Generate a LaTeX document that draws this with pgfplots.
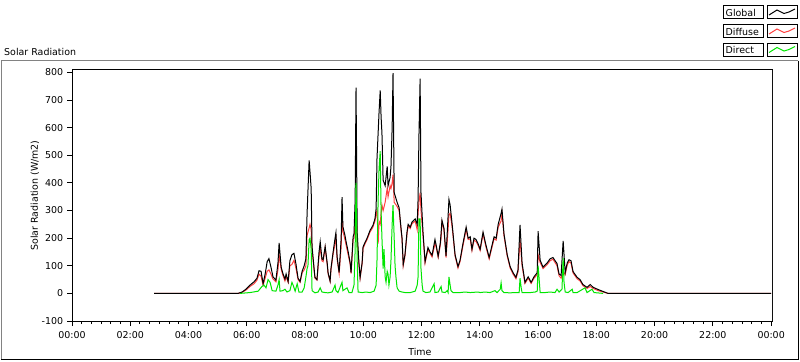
\documentclass[border=0pt]{standalone}
\usepackage{fontspec}
\setmainfont{DejaVu Sans}
\usepackage{pgfplots}
\pgfplotsset{compat=1.18}
\definecolor{lvred}{RGB}{255,64,64}
\definecolor{lvgreen}{RGB}{0,230,0}
\definecolor{lvgray}{RGB}{130,130,130}
\begin{document}
\begin{tikzpicture}[x=1bp,y=1bp,font=\fontsize{9.5}{11}\selectfont]
\useasboundingbox (0,0) rectangle (800,361);
\fill[white] (0,0) rectangle (800,361);
% outer panel
\draw[lvgray,line width=1bp] (1.5,1) -- (1.5,300.5) -- (798,300.5);
\draw[black,line width=1bp] (798.5,300.5) -- (798.5,1.5) -- (1,1.5);
% title
\node[anchor=base west,inner sep=0pt] at (4,306) {Solar Radiation};
% legend
\foreach \t/\b/\lab/\col in {355.5/342.5/Global/black, 336.5/323.5/Diffuse/lvred, 318/305/Direct/lvgreen}{
  \draw[black,line width=1bp] (723.5,\b) rectangle (763.5,\t);
  \draw[black,line width=1bp] (767,\b) rectangle (797,\t);
  \node[anchor=base west,inner sep=0pt] at (725.5,\b+2.2) {\lab};
  \draw[\col,line width=1bp] (769,\b+3.5) -- (777,\b+8.5) -- (784,\b+5) -- (789,\b+6.5) -- (795,\b+9.5);
}
\begin{axis}[
  at={(72bp,40bp)}, anchor=south west, scale only axis,
  width=700bp, height=251bp,
  xmin=0, xmax=24.03, ymin=-100, ymax=809,
  axis line style={black, line width=1bp},
  tick align=outside, xtick pos=bottom, ytick pos=left,
  xtick={0,2,...,24},
  xticklabels={00:00,02:00,04:00,06:00,08:00,10:00,12:00,14:00,16:00,18:00,20:00,22:00,00:00},
  minor x tick num=5,
  ytick={-100,0,100,200,300,400,500,600,700,800},
  yticklabels={-100,0,100,200,300,400,500,600,700,800},
  major tick length=5bp, minor tick length=3bp,
  tick style={black, line width=1bp},
  ticklabel style={font=\fontsize{9.5}{11}\selectfont, inner sep=0pt},
  yticklabel style={anchor=east, xshift=-3.7bp},
  xticklabel style={anchor=north, yshift=-5bp},
  xlabel={Time},
  xlabel style={at={(axis description cs:0.497,0)}, anchor=base, yshift=-34bp, inner sep=0pt},
  ylabel={Solar Radiation (W/m2)},
  ylabel style={at={(axis description cs:-0.0529,0.5)}, anchor=center, inner sep=0pt},
  label style={font=\fontsize{9.5}{11}\selectfont},
  clip=true,
]
\addplot[lvred, line width=1bp] coordinates {
(2.82,0) (5.70,0) (5.84,4) (5.97,12) (6.11,25) (6.25,35) (6.35,48) (6.42,70) (6.49,62) (6.56,30) (6.63,55) (6.70,80) (6.76,85) (6.83,70) (6.90,52) (7.00,42) (7.07,85) (7.11,140) (7.18,88) (7.24,65) (7.31,45) (7.35,60) (7.42,40) (7.48,100) (7.55,105) (7.62,120) (7.69,90) (7.76,50) (7.83,40) (7.90,75) (7.97,85) (8.03,100) (8.07,210) (8.14,237) (8.17,250) (8.21,230) (8.24,160) (8.31,85) (8.34,55) (8.41,48) (8.48,135) (8.52,165) (8.58,118) (8.62,115) (8.69,165) (8.76,105) (8.79,72) (8.86,43) (8.89,85) (8.96,140) (9.03,180) (9.06,200) (9.10,125) (9.17,72) (9.24,170) (9.27,300) (9.30,225) (9.37,195) (9.41,175) (9.48,140) (9.55,105) (9.58,72) (9.65,195) (9.68,200) (9.72,260) (9.75,330) (9.79,190) (9.85,105) (9.89,55) (9.96,108) (9.99,162) (10.06,180) (10.13,195) (10.23,222) (10.33,240) (10.40,262) (10.44,290) (10.47,300) (10.51,180) (10.54,260) (10.58,250) (10.61,290) (10.64,320) (10.68,300) (10.75,330) (10.82,380) (10.85,350) (10.92,390) (10.95,380) (10.99,400) (11.02,430) (11.06,330) (11.16,315) (11.23,300) (11.30,225) (11.33,195) (11.37,100) (11.43,135) (11.50,215) (11.54,245) (11.61,235) (11.67,252) (11.78,262) (11.85,230) (11.88,290) (11.91,330) (11.95,365) (11.98,300) (12.05,210) (12.12,110) (12.22,160) (12.29,145) (12.36,132) (12.46,180) (12.50,168) (12.57,130) (12.64,172) (12.67,200) (12.70,258) (12.77,228) (12.84,130) (12.91,230) (12.94,285) (12.98,290) (13.05,240) (13.15,135) (13.25,92) (13.32,115) (13.42,172) (13.53,232) (13.60,195) (13.67,198) (13.73,155) (13.80,192) (13.87,188) (13.94,174) (14.01,155) (14.11,215) (14.21,168) (14.32,125) (14.42,168) (14.49,198) (14.56,193) (14.63,240) (14.73,262) (14.76,290) (14.83,208) (14.94,135) (15.04,92) (15.14,70) (15.24,53) (15.31,78) (15.38,195) (15.45,100) (15.55,36) (15.66,55) (15.76,36) (15.86,55) (15.97,68) (16.00,140) (16.07,112) (16.17,90) (16.31,104) (16.41,118) (16.51,124) (16.65,100) (16.72,64) (16.79,55) (16.86,80) (16.93,68) (17.00,103) (17.06,115) (17.13,110) (17.20,74) (17.34,53) (17.44,45) (17.54,28) (17.68,18) (17.79,25) (17.89,18) (18.06,10) (18.23,5) (18.40,0) (24.00,0)
};
\addplot[black, line width=1bp] coordinates {
(2.82,0) (5.70,0) (5.84,5) (5.97,15) (6.11,30) (6.25,42) (6.35,55) (6.42,82) (6.49,80) (6.56,35) (6.63,70) (6.70,115) (6.76,126) (6.83,95) (6.90,60) (7.00,48) (7.07,110) (7.11,183) (7.18,95) (7.24,72) (7.31,52) (7.35,70) (7.42,43) (7.48,118) (7.55,140) (7.62,145) (7.69,105) (7.76,55) (7.83,43) (7.90,80) (7.97,100) (8.03,125) (8.07,290) (8.14,482) (8.17,440) (8.21,380) (8.24,170) (8.31,90) (8.34,58) (8.41,50) (8.48,150) (8.52,187) (8.58,125) (8.62,122) (8.69,170) (8.76,110) (8.79,75) (8.86,45) (8.89,90) (8.96,147) (9.03,200) (9.06,220) (9.10,133) (9.17,75) (9.24,200) (9.27,349) (9.30,241) (9.37,210) (9.41,187) (9.48,151) (9.55,110) (9.58,75) (9.65,205) (9.68,215) (9.72,338) (9.75,745) (9.79,220) (9.85,110) (9.89,58) (9.96,112) (9.99,168) (10.06,185) (10.13,200) (10.23,228) (10.33,246) (10.40,270) (10.44,307) (10.47,489) (10.54,655) (10.58,735) (10.61,640) (10.64,580) (10.68,410) (10.75,390) (10.82,460) (10.85,390) (10.92,420) (10.95,460) (10.99,600) (11.02,798) (11.06,365) (11.16,330) (11.23,310) (11.30,230) (11.33,200) (11.37,105) (11.43,140) (11.50,222) (11.54,250) (11.61,240) (11.67,258) (11.78,270) (11.85,250) (11.88,340) (11.91,570) (11.95,778) (11.98,365) (12.05,220) (12.12,115) (12.22,166) (12.29,150) (12.36,138) (12.46,195) (12.50,175) (12.57,135) (12.64,180) (12.67,218) (12.70,265) (12.77,235) (12.84,135) (12.91,280) (12.94,340) (12.98,320) (13.05,250) (13.15,140) (13.25,97) (13.32,120) (13.42,180) (13.53,240) (13.60,200) (13.67,205) (13.73,160) (13.80,200) (13.87,195) (13.94,180) (14.01,160) (14.11,222) (14.21,175) (14.32,130) (14.42,175) (14.49,205) (14.56,200) (14.63,250) (14.73,290) (14.76,305) (14.83,215) (14.94,140) (15.04,97) (15.14,75) (15.24,58) (15.31,85) (15.38,248) (15.45,110) (15.55,40) (15.66,60) (15.76,40) (15.86,60) (15.97,75) (16.00,225) (16.07,120) (16.17,95) (16.31,110) (16.41,125) (16.51,130) (16.65,108) (16.72,70) (16.79,65) (16.86,190) (16.93,75) (17.00,110) (17.06,122) (17.13,118) (17.20,79) (17.34,58) (17.44,50) (17.54,32) (17.68,22) (17.79,32) (17.89,22) (18.06,14) (18.23,7) (18.40,0) (24.00,0)
};
\addplot[lvgreen, line width=1bp] coordinates {
(5.77,0) (6.11,3) (6.39,8) (6.52,25) (6.59,30) (6.66,20) (6.73,50) (6.80,40) (6.87,10) (7.00,8) (7.07,30) (7.11,50) (7.14,8) (7.24,10) (7.31,15) (7.38,5) (7.48,10) (7.55,40) (7.59,30) (7.66,8) (7.73,35) (7.79,5) (7.90,5) (7.97,20) (8.03,60) (8.07,90) (8.10,100) (8.14,194) (8.17,200) (8.21,160) (8.24,10) (8.34,2) (8.45,5) (8.52,20) (8.58,5) (8.69,3) (8.79,2) (8.93,5) (9.03,30) (9.06,10) (9.13,3) (9.27,40) (9.30,10) (9.44,20) (9.51,3) (9.61,3) (9.68,30) (9.72,160) (9.75,400) (9.79,120) (9.82,5) (9.96,3) (10.09,5) (10.23,3) (10.37,8) (10.44,30) (10.47,120) (10.51,345) (10.54,450) (10.58,515) (10.61,300) (10.64,200) (10.68,90) (10.71,160) (10.75,60) (10.78,40) (10.82,80) (10.85,70) (10.88,30) (10.92,60) (10.95,120) (10.99,250) (11.02,320) (11.06,200) (11.09,100) (11.12,60) (11.16,20) (11.23,8) (11.33,5) (11.43,3) (11.61,3) (11.78,8) (11.85,30) (11.88,60) (11.91,270) (11.95,270) (11.98,90) (12.02,30) (12.05,8) (12.15,3) (12.29,5) (12.43,35) (12.46,3) (12.57,5) (12.67,25) (12.70,5) (12.81,3) (12.88,10) (12.91,3) (12.94,60) (12.98,30) (13.01,10) (13.08,3) (13.32,3) (13.49,5) (13.67,3) (13.94,5) (14.01,3) (14.18,5) (14.35,3) (14.52,10) (14.59,3) (14.70,15) (14.73,38) (14.76,10) (14.83,3) (15.04,2) (15.21,3) (15.35,3) (15.38,55) (15.42,20) (15.45,3) (15.73,3) (15.90,5) (15.97,8) (16.00,100) (16.03,60) (16.07,3) (16.24,3) (16.41,5) (16.58,3) (16.65,15) (16.72,5) (16.82,15) (16.86,128) (16.89,40) (16.93,5) (17.03,3) (17.17,15) (17.20,3) (17.34,3) (17.61,20) (17.68,3) (17.85,15) (17.92,3) (18.23,0)
};
\draw[lvgray, line width=1bp] (rel axis cs:1,0) -- (rel axis cs:1,1);
\end{axis}
\end{tikzpicture}
\end{document}
